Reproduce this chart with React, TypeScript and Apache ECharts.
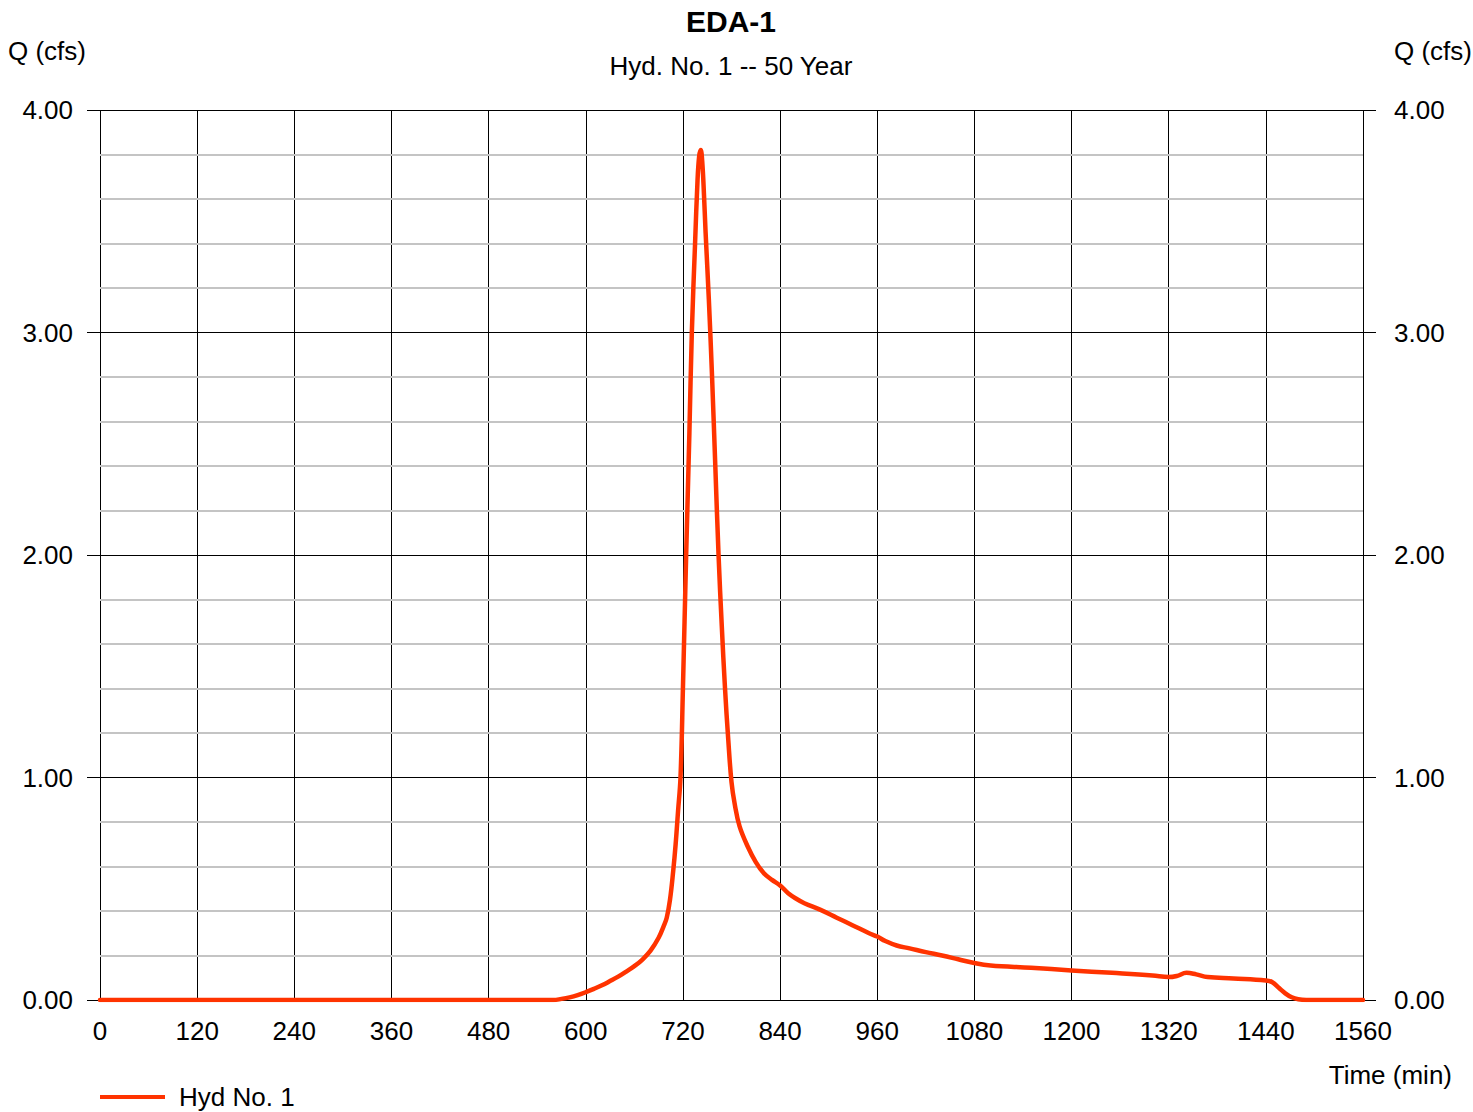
import React, { useEffect, useRef } from "react";
import * as echarts from "echarts";

const chartTitle = "EDA-1";
const chartSubtitle = "Hyd. No. 1 -- 50 Year";
const seriesName = "Hyd No. 1";
const yAxisName = "Q (cfs)";
const xAxisName = "Time (min)";

const times = [
  0, 560, 570, 580, 590, 600, 610, 620, 630, 640, 650, 660, 670, 680, 690, 696, 700, 704, 708, 711, 714,
  717, 720, 724, 728, 731, 735, 738, 740, 742, 744, 746, 748, 752, 756, 760, 764, 768, 772, 776, 780, 784, 790, 800,
  810, 820, 830, 840, 850, 860, 870, 890, 910, 930, 950, 960, 970, 984, 1000, 1020, 1040, 1060, 1080, 1100,
  1150, 1200, 1250, 1300, 1320, 1330, 1342, 1354, 1368, 1400, 1440, 1448, 1456, 1464, 1472, 1480, 1490, 1560,
];
const flows = [
  0, 0, 0.005, 0.012, 0.022, 0.035, 0.05, 0.066, 0.085, 0.105, 0.128, 0.152, 0.182, 0.222, 0.28, 0.33, 0.37,
  0.45, 0.58, 0.7, 0.85, 1.0, 1.4, 2.0, 2.55, 3.0, 3.4, 3.68, 3.79, 3.82, 3.76, 3.62, 3.45, 3.15, 2.8, 2.4, 2.0,
  1.68, 1.4, 1.17, 0.98, 0.88, 0.78, 0.69, 0.62, 0.57, 0.54, 0.515, 0.48, 0.455, 0.435, 0.405, 0.37, 0.335, 0.3,
  0.285, 0.265, 0.245, 0.232, 0.215, 0.2, 0.183, 0.166, 0.155, 0.145, 0.133, 0.122, 0.11, 0.103, 0.108, 0.122,
  0.115, 0.103, 0.097, 0.088, 0.08, 0.055, 0.03, 0.012, 0.003, 0, 0,
];

const FONT = "'Liberation Sans', Arial, sans-serif";

export default function App() {
  const ref = useRef<HTMLDivElement>(null);

  useEffect(() => {
    if (!ref.current) return;
    const chart = echarts.init(ref.current, null, { renderer: "svg" });
    const data = times.map((t, i) => [t, flows[i]]);
    const yCommon = {
      type: "value",
      min: 0,
      max: 4,
      interval: 1,
      axisLine: { show: false },
      axisTick: { show: true, inside: false, length: 13, lineStyle: { color: "#000", width: 1 } },
      axisLabel: {
        formatter: (v: number) => v.toFixed(2),
        fontSize: 26,
        fontFamily: FONT,
        color: "#000",
      },
    };
    chart.setOption({
      animation: false,
      backgroundColor: "#fff",
      grid: { left: 100, right: 110, top: 110, bottom: 112, containLabel: false },
      xAxis: {
        type: "value",
        min: 0,
        max: 1560,
        interval: 120,
        axisLine: { show: true, lineStyle: { color: "#000", width: 1 } },
        axisTick: { show: false },
        axisLabel: {
          fontSize: 26,
          fontFamily: FONT,
          color: "#000",
          margin: 18,
          formatter: (v: number) => String(v),
        },
        splitLine: { show: true, lineStyle: { color: "#000", width: 1 } },
      },
      yAxis: [
        {
          ...yCommon,
          position: "left",
          axisLabel: { ...yCommon.axisLabel, margin: 27 },
          splitLine: { show: true, lineStyle: { color: "#000", width: 1 } },
          minorTick: { show: false, splitNumber: 5 },
          minorSplitLine: { show: true, lineStyle: { color: "#c4c4c4", width: 2 } },
          z: 1,
        },
        {
          ...yCommon,
          position: "right",
          axisLabel: { ...yCommon.axisLabel, margin: 31 },
          splitLine: { show: false },
        },
      ],
      legend: {
        show: true,
        left: 100,
        top: 1084,
        padding: 0,
        icon: "rect",
        itemWidth: 65,
        itemHeight: 4,
        textStyle: { fontSize: 26, fontFamily: FONT, color: "#000", padding: [0, 0, 0, 9] },
        data: [seriesName],
      },
      series: [
        {
          name: seriesName,
          type: "line",
          data,
          showSymbol: false,
          smooth: 0.4,
          lineStyle: { color: "#ff3300", width: 4.5, cap: "round", join: "round" },
          itemStyle: { color: "#ff3300" },
          z: 5,
        },
      ],
      graphic: [
        {
          type: "text",
          x: 731,
          y: 21,
          style: { text: chartTitle, fontSize: 30, fontWeight: "bold", fontFamily: FONT, fill: "#000", textAlign: "center", textVerticalAlign: "middle" },
        },
        {
          type: "text",
          x: 731,
          y: 66,
          style: { text: chartSubtitle, fontSize: 26, fontFamily: FONT, fill: "#000", textAlign: "center", textVerticalAlign: "middle" },
        },
        {
          type: "text",
          x: 8,
          y: 51,
          style: { text: yAxisName, fontSize: 26, fontFamily: FONT, fill: "#000", textAlign: "left", textVerticalAlign: "middle" },
        },
        {
          type: "text",
          x: 1472,
          y: 51,
          style: { text: yAxisName, fontSize: 26, fontFamily: FONT, fill: "#000", textAlign: "right", textVerticalAlign: "middle" },
        },
        {
          type: "text",
          x: 1452,
          y: 1075,
          style: { text: xAxisName, fontSize: 26, fontFamily: FONT, fill: "#000", textAlign: "right", textVerticalAlign: "middle" },
        },
      ],
    });
    return () => chart.dispose();
  }, []);

  return (
    <div
      ref={ref}
      style={{ position: "fixed", left: 0, top: 0, width: 1473, height: 1112, background: "#fff" }}
    />
  );
}
